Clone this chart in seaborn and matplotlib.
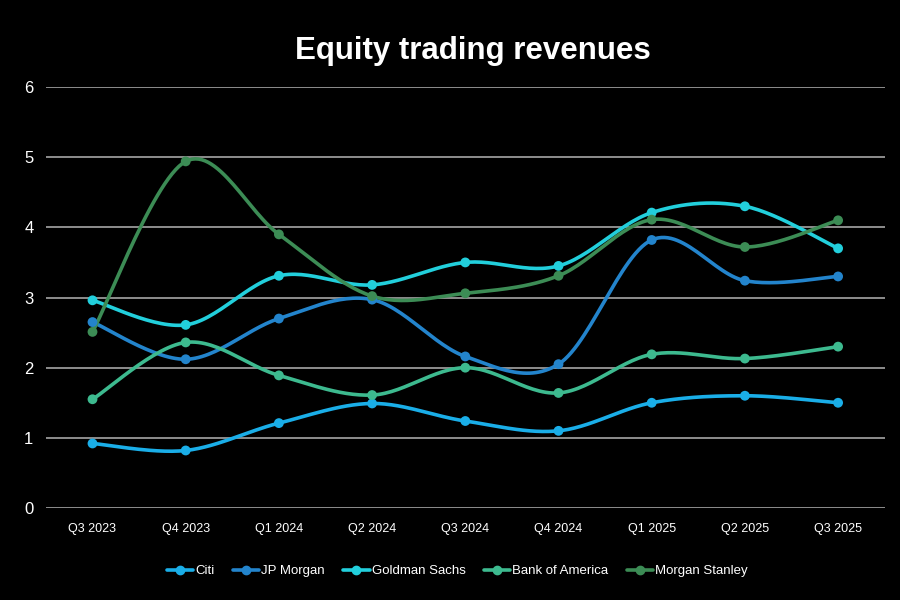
import numpy as np
import pandas as pd
import seaborn as sns
import matplotlib.pyplot as plt

# Data
quarters = ['Q3 2023', 'Q4 2023', 'Q1 2024', 'Q2 2024', 'Q3 2024',
            'Q4 2024', 'Q1 2025', 'Q2 2025', 'Q3 2025']
citi = [0.92, 0.82, 1.21, 1.49, 1.24, 1.10, 1.50, 1.60, 1.50]
jp_morgan = [2.65, 2.12, 2.70, 2.97, 2.16, 2.05, 3.82, 3.24, 3.30]
goldman = [2.96, 2.61, 3.31, 3.18, 3.50, 3.45, 4.21, 4.30, 3.70]
bofa = [1.55, 2.36, 1.89, 1.61, 2.00, 1.64, 2.19, 2.13, 2.30]
morgan_stanley = [2.51, 4.94, 3.90, 3.02, 3.06, 3.31, 4.11, 3.72, 4.10]

banks = ['Citi', 'JP Morgan', 'Goldman Sachs', 'Bank of America', 'Morgan Stanley']
colors = ['#1aaee8', '#2384cc', '#22cfdc', '#3dba8f', '#3c8c55']
series = [citi, jp_morgan, goldman, bofa, morgan_stanley]

rows = []
for bank, vals in zip(banks, series):
    for i, v in enumerate(vals):
        rows.append({'bank': bank, 'pos': i, 'value': v})
df = pd.DataFrame(rows)


def smooth(xs, ys, n=30):
    # Catmull-Rom style bezier, similar to spreadsheet "smoothed line"
    xs = np.asarray(xs, float)
    ys = np.asarray(ys, float)
    px = np.concatenate([[xs[0]], xs, [xs[-1]]])
    py = np.concatenate([[ys[0]], ys, [ys[-1]]])
    out_x, out_y = [], []
    t = np.linspace(0, 1, n)
    for i in range(1, len(px) - 2):
        p0 = np.array([px[i], py[i]])
        p3 = np.array([px[i + 1], py[i + 1]])
        p1 = p0 + (np.array([px[i + 1], py[i + 1]]) - np.array([px[i - 1], py[i - 1]])) / 6
        p2 = p3 - (np.array([px[i + 2], py[i + 2]]) - np.array([px[i], py[i]])) / 6
        b = ((1 - t) ** 3)[:, None] * p0 + (3 * (1 - t) ** 2 * t)[:, None] * p1 \
            + (3 * (1 - t) * t ** 2)[:, None] * p2 + (t ** 3)[:, None] * p3
        out_x.extend(b[:, 0])
        out_y.extend(b[:, 1])
    return out_x, out_y


sns.set_theme(style='dark')
plt.rcParams['font.family'] = ['Liberation Sans', 'DejaVu Sans']

fig = plt.figure(figsize=(9, 6), dpi=100, facecolor='black')
ax = fig.add_axes([0.051, 0.1533, 0.932, 0.7017])
ax.set_facecolor('black')

for bank, color in zip(banks, colors):
    sub = df[df['bank'] == bank]
    sx, sy = smooth(sub['pos'], sub['value'])
    sns.lineplot(x=sx, y=sy, ax=ax, color=color, linewidth=2.6, sort=False,
                 estimator=None, zorder=3)
    sns.scatterplot(x=sub['pos'], y=sub['value'], ax=ax, color=color, s=50,
                    edgecolor='none', zorder=4)

ax.set_xlim(-0.5, 8.5)
ax.set_ylim(0, 6)
ax.set_yticks(range(0, 7))
ax.set_xticks(range(len(quarters)))
ax.set_xticklabels(quarters, fontsize=9, color='white')
ax.tick_params(axis='y', labelsize=12, colors='white', length=0, pad=9)
ax.tick_params(axis='x', length=0, pad=11)
ax.grid(axis='y', color='#b4b4b4', linewidth=1.1)
ax.grid(axis='x', visible=False)
for s in ax.spines.values():
    s.set_visible(False)
ax.set_xlabel('')
ax.set_ylabel('')

fig.text(0.525, 0.915, 'Equity trading revenues', ha='center', va='center',
         fontsize=22.5, fontweight='bold', color='white')

handles = [plt.Line2D([], [], color=c, linewidth=2.6, marker='o', markersize=6)
           for c in colors]
leg = fig.legend(handles, banks, loc='center', bbox_to_anchor=(0.508, 0.048),
                 ncol=5, frameon=False, handlelength=2.0, handletextpad=0.15,
                 columnspacing=1.4, prop={'size': 9.5})
for t in leg.get_texts():
    t.set_color('white')

fig.savefig('out.png', dpi=100, facecolor='black')
